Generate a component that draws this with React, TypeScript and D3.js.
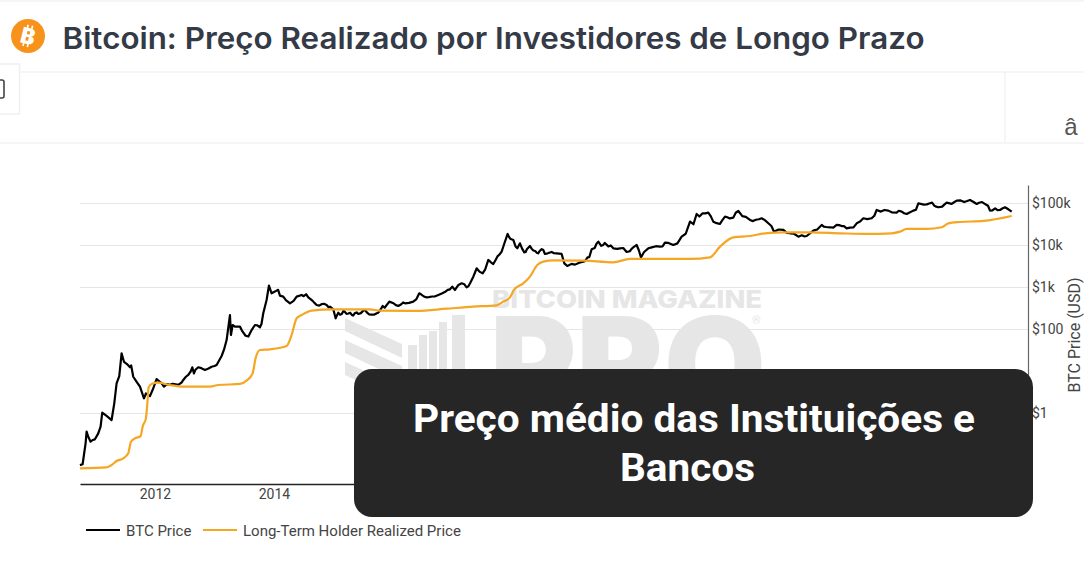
import { useEffect, useRef } from "react";
import * as d3 from "d3";

const title = "Bitcoin: Preço Realizado por Investidores de Longo Prazo";
const calloutLines = ["Preço médio das Instituições e", "Bancos"];
const seriesNames = ["BTC Price", "Long-Term Holder Realized Price"];
const yAxisLabel = "BTC Price (USD)";

const xTicks = [2012, 2014, 2016, 2018, 2020, 2022, 2024, 2026];
const yTicks = [1, 100, 1000, 10000, 100000];
const yTickLabels = ["$1", "$100", "$1k", "$10k", "$100k"];

// decimal years and USD
const btcYears = [
  2010.739, 2010.784, 2010.806, 2010.834, 2010.851, 2010.879, 2010.918, 2010.952, 2010.991, 2011.047, 2011.086, 2011.114,
  2011.187, 2011.271, 2011.316, 2011.355, 2011.4, 2011.439, 2011.479, 2011.53, 2011.58, 2011.6, 2011.635, 2011.692, 2011.748,
  2011.815, 2011.848, 2011.916, 2011.972, 2012.027, 2012.112, 2012.151, 2012.2, 2012.252, 2012.392, 2012.476, 2012.56,
  2012.627, 2012.655, 2012.728, 2012.84, 2012.952, 2013.036, 2013.12, 2013.204, 2013.26, 2013.277, 2013.305, 2013.344,
  2013.428, 2013.523, 2013.624, 2013.68, 2013.764, 2013.82, 2013.876, 2013.915, 2013.96, 2014.0, 2014.044, 2014.1, 2014.156,
  2014.2, 2014.269, 2014.33, 2014.381, 2014.465, 2014.577, 2014.65, 2014.717, 2014.8, 2014.885, 2014.941, 2014.997, 2015.036,
  2015.081, 2015.14, 2015.193, 2015.25, 2015.305, 2015.36, 2015.417, 2015.501, 2015.56, 2015.641, 2015.72, 2015.781,
  2015.826, 2015.86, 2015.938, 2016.01, 2016.089, 2016.14, 2016.202, 2016.341, 2016.442, 2016.5, 2016.566, 2016.66, 2016.762,
  2016.87, 2016.958, 2016.997, 2017.042, 2017.154, 2017.238, 2017.3, 2017.35, 2017.406, 2017.46, 2017.507, 2017.602, 2017.65,
  2017.686, 2017.76, 2017.826, 2017.927, 2017.97, 2018.022, 2018.09, 2018.134, 2018.207, 2018.25, 2018.302, 2018.36, 2018.414,
  2018.47, 2018.526, 2018.554, 2018.666, 2018.75, 2018.834, 2018.879, 2018.93, 2019.059, 2019.199, 2019.27, 2019.339, 2019.451,
  2019.5, 2019.535, 2019.62, 2019.703, 2019.815, 2019.927, 2020.01, 2020.095, 2020.13, 2020.168, 2020.22, 2020.291, 2020.487,
  2020.571, 2020.711, 2020.851, 2020.92, 2020.992, 2021.05, 2021.103, 2021.2, 2021.299, 2021.383, 2021.44, 2021.495, 2021.58,
  2021.66, 2021.804, 2021.87, 2022.0, 2022.1, 2022.196, 2022.308, 2022.404, 2022.48, 2022.561, 2022.673, 2022.813, 2022.87,
  2022.953, 2023.065, 2023.205, 2023.28, 2023.345, 2023.457, 2023.54, 2023.625, 2023.793, 2023.905, 2024.045, 2024.129,
  2024.2, 2024.325, 2024.465, 2024.55, 2024.633, 2024.745, 2024.829, 2024.92, 2025.025, 2025.1, 2025.166, 2025.306, 2025.39,
  2025.474, 2025.6, 2025.698, 2025.81, 2025.9, 2025.978, 2026.034, 2026.12, 2026.202, 2026.286, 2026.342, 2026.398,
];
const btcPrices = [
  0.059, 0.062, 0.103, 0.195, 0.37, 0.28, 0.213, 0.234, 0.243, 0.337, 0.486, 1.05,
  0.873, 0.7, 1.75, 5.2, 7.8, 27, 17, 15, 12.6, 14, 7.5, 5.7, 4.35,
  2.3, 3.0, 2.6, 4.0, 6.6, 5.2, 4.35, 5.0, 4.8, 4.8, 6.3, 8.3,
  12.6, 9.0, 12.6, 10.9, 13, 14.3, 23.4, 56, 221, 74, 128, 117,
  117, 71, 97, 128, 113, 243, 504, 1107, 727, 780, 841, 640, 605,
  500, 420, 480, 605, 663, 583, 480, 383, 400, 383, 350, 302, 185,
  252, 235, 261, 240, 225, 245, 234, 281, 255, 225, 240, 281,
  363, 330, 460, 420, 363, 400, 420, 460, 727, 640, 583, 610, 663,
  780, 904, 1047, 872, 1255, 1009, 1300, 1811, 2858, 2350, 2173, 4519, 3900,
  3622, 5600, 7129, 18800, 14500, 13520, 8570, 11270, 6870, 8100, 9730, 7600, 6740,
  7500, 7810, 6280, 7000, 6500, 6280, 3760, 3250, 3500, 4120, 5200, 8110, 12340,
  9800, 10280, 9500, 8560, 8560, 7000, 8300, 10280, 7800, 5220, 7000, 8560, 9370,
  11670, 10280, 16220, 19000, 36900, 32000, 56200, 58000, 60500, 36900, 34000, 32500, 48500,
  44000, 66200, 50000, 40500, 41000, 44400, 33700, 21300, 24000, 23400, 19500, 16200, 17500,
  16800, 22500, 30800, 27500, 27100, 30800, 29000, 25600, 33700, 44400, 44400, 70000,
  64000, 67500, 60500, 64000, 56200, 67500, 101000, 94000, 101000, 88000, 81100, 104700, 98000,
  116800, 108000, 121000, 97300, 108000, 92000, 67500, 76000, 70000, 81100, 72600, 63800,
];

// second reading of the smaller swings between the points above
const btcSwingYears = [
  2012.3, 2012.45, 2012.52, 2012.6, 2012.68, 2012.78, 2012.9, 2013.0, 2013.16, 2013.47, 2013.57, 2013.72, 2013.79, 2014.07,
  2014.5, 2014.54, 2014.62, 2014.68, 2014.76, 2014.84, 2014.92, 2015.11, 2015.17, 2015.22, 2015.28, 2015.33, 2015.39, 2015.46,
  2015.53, 2015.6, 2015.68, 2015.75, 2016.05, 2016.17, 2016.27, 2016.39, 2016.47, 2016.53, 2016.6, 2016.7, 2016.82, 2016.92,
  2017.1, 2017.2, 2017.27, 2017.38, 2017.43, 2017.55, 2017.63, 2017.72, 2017.79, 2017.87, 2017.95, 2018.06, 2018.17, 2018.23,
  2018.33, 2018.39, 2018.44, 2018.5, 2018.6, 2018.7, 2018.79, 2019.0, 2019.13, 2019.23, 2019.3, 2019.39, 2019.42, 2019.56,
  2019.66, 2019.77, 2019.87, 2019.98, 2020.05, 2020.35, 2020.42, 2020.53, 2020.63, 2020.78, 2021.15, 2021.25, 2021.34, 2021.53,
  2021.62, 2021.72, 2021.76, 2021.84, 2021.93, 2022.05, 2022.15, 2022.25, 2022.36, 2022.62, 2022.74, 2022.91, 2023.13, 2023.24,
  2023.4, 2023.5, 2023.58, 2023.68, 2023.74, 2023.85, 2023.97, 2024.09, 2024.26, 2024.39, 2024.5, 2024.59, 2024.69, 2024.79,
  2024.97, 2025.06, 2025.13, 2025.23, 2025.27, 2025.43, 2025.54, 2025.65, 2025.75, 2025.85, 2025.94, 2026.0, 2026.07, 2026.16,
  2026.24,
];
const btcSwingPrices = [
  5.1, 5.5, 7.5, 10, 11, 12, 11.8, 13.5, 33, 90, 68, 125, 135, 880,
  620, 690, 520, 430, 370, 410, 335, 225, 280, 235, 250, 215, 255, 245,
  290, 230, 225, 250, 380, 440, 430, 520, 690, 600, 590, 610, 720, 880,
  1150, 1190, 1080, 2300, 2600, 2700, 4200, 4400, 6100, 11000, 16000, 9500, 8400, 7000,
  8400, 7400, 6500, 8200, 6500, 6600, 6400, 3650, 3900, 4300, 5300, 8700, 11000, 11500,
  10000, 8300, 8700, 7300, 9300, 9000, 9600, 9500, 11500, 11200, 49000, 58000, 50000, 39000,
  47000, 46000, 60000, 57000, 48000, 38000, 42000, 40000, 29000, 20000, 19000, 16500, 24000, 28000,
  26500, 30500, 29000, 26500, 27000, 37000, 42500, 51000, 70000, 61000, 67000, 58500, 62000, 71000,
  95000, 105000, 84000, 84000, 95000, 107000, 118000, 114000, 110000, 104000, 99000, 88000, 68000, 69000,
  76000,
];

const lthYears = [
  2010.739, 2011.187, 2011.271, 2011.355, 2011.467, 2011.551, 2011.596, 2011.663, 2011.759, 2011.792, 2011.848, 2011.876,
  2011.893, 2011.944, 2012.056, 2012.252, 2012.476, 2012.924, 2013.064, 2013.428, 2013.54, 2013.641, 2013.691, 2013.764,
  2013.932, 2014.212, 2014.297, 2014.381, 2014.465, 2014.633, 2014.997, 2015.613, 2015.781, 2016.398, 2016.902, 2017.35,
  2017.742, 2017.854, 2017.966, 2018.033, 2018.19, 2018.302, 2018.425, 2018.526, 2018.694, 2019.199, 2019.703, 2019.983,
  2020.992, 2021.328, 2021.496, 2021.72, 2022.0, 2022.252, 2022.561, 2023.009, 2023.513, 2023.961, 2024.381, 2024.521,
  2024.633, 2024.969, 2025.221, 2025.334, 2025.53, 2025.922, 2026.398,
];
const lthPrices = [
  0.0495, 0.0523, 0.0594, 0.074, 0.0857, 0.113, 0.213, 0.256, 0.291, 0.486, 0.767, 2.09,
  4.2, 5.05, 5.42, 4.77, 4.36, 4.36, 4.77, 5.05, 6.05, 9.04, 20.6, 32.5,
  33.7, 40.5, 74, 185, 221, 281, 302, 302, 281, 276, 313, 350,
  376, 460, 583, 872, 1255, 1811, 3436, 4120, 4436, 4355, 3972, 4775,
  4775, 5224, 9376, 15640, 16800, 19500, 20560, 20560, 19500, 18800, 19500, 21340,
  24700, 24700, 27100, 33700, 36200, 38300, 50400,
];

const width = 1084;
const height = 570;
const font = "Roboto, sans-serif";
const orange = "#f5a623";
const watermark = "#e6e6e6";

export default function App() {
  const svgRef = useRef<SVGSVGElement>(null);

  useEffect(() => {
    if (!svgRef.current) return;
    const svg = d3.select(svgRef.current);
    svg.selectAll("*").remove();

    const xScale = d3.scaleLinear().domain([2010.74, 2026.4]).range([80, 1011.8]);
    const yScale = d3.scaleLog().domain([0.021, 275000]).range([484, 185]);

    // page header
    const header = svg.append("g");
    [1, 72, 143].forEach((y) => {
      header.append("line").attr("x1", 0).attr("x2", width).attr("y1", y).attr("y2", y)
        .attr("stroke", "#f3f3f3").attr("stroke-width", 1.5);
    });
    header.append("line").attr("x1", 1005).attr("x2", 1005).attr("y1", 72).attr("y2", 143)
      .attr("stroke", "#f3f3f3").attr("stroke-width", 1.5);
    header.append("rect").attr("x", -5).attr("y", 64).attr("width", 24.5).attr("height", 50)
      .attr("fill", "#fff").attr("stroke", "#f0f0f0").attr("stroke-width", 1.5);
    header.append("rect").attr("x", -5).attr("y", 80).attr("width", 9).attr("height", 18).attr("rx", 2)
      .attr("fill", "none").attr("stroke", "#444").attr("stroke-width", 1.6);
    header.append("text").attr("x", 1071).attr("y", 135).attr("text-anchor", "middle")
      .attr("font-family", "'Liberation Sans', sans-serif").attr("font-size", 24).attr("fill", "#555").text("â");

    // coin icon
    const coin = header.append("g").attr("transform", "translate(28,36)");
    coin.append("circle").attr("r", 17).attr("fill", "#f7931a");
    const glyph = coin.append("g").attr("transform", "rotate(14)");
    glyph.append("text").attr("y", 8).attr("text-anchor", "middle").attr("font-family", "Inter, sans-serif")
      .attr("font-weight", 800).attr("font-size", 22).attr("fill", "#fff").text("B");
    [-2.5, 2].forEach((dx) => {
      glyph.append("line").attr("x1", dx).attr("x2", dx).attr("y1", -11).attr("y2", 11)
        .attr("stroke", "#fff").attr("stroke-width", 1.6);
    });

    header.append("text").attr("x", 62.5).attr("y", 49)
      .attr("font-family", "Inter, sans-serif").attr("font-weight", 600).attr("font-size", 30)
      .attr("fill", "#343a46").attr("textLength", 862).attr("lengthAdjust", "spacingAndGlyphs").text(title);

    // watermark
    const wm = svg.append("g").attr("fill", watermark);
    wm.append("text").attr("x", 492).attr("y", 308).attr("font-family", "Inter, sans-serif").attr("font-weight", 800)
      .attr("font-size", 25).attr("textLength", 270).attr("lengthAdjust", "spacingAndGlyphs").text("BITCOIN MAGAZINE");
    wm.append("text").attr("x", 490).attr("y", 411).attr("font-family", "Inter, sans-serif").attr("font-weight", 900)
      .attr("font-size", 130).attr("textLength", 276).attr("lengthAdjust", "spacingAndGlyphs").text("PRO");
    wm.append("text").attr("x", 752).attr("y", 324).attr("font-family", font).attr("font-size", 11).text("®");
    [0, 22, 44].forEach((dy) => {
      wm.append("path").attr("d", `M345 ${318 + dy}L402 ${344 + dy}V${358 + dy}L345 ${331 + dy}Z`);
    });
    [[408, 345, 9], [419, 335, 8], [429, 331, 8], [439, 322, 8], [452, 315, 13]].forEach(([x, top, w]) => {
      wm.append("rect").attr("x", x).attr("y", top).attr("width", w).attr("height", 372 - top);
    });

    // grid
    svg.append("g").selectAll("line").data(yTicks).join("line")
      .attr("x1", 80).attr("x2", 1028)
      .attr("y1", (d) => yScale(d)).attr("y2", (d) => yScale(d))
      .attr("stroke", "#e6e6e6").attr("stroke-width", 1);

    // x axis
    const xAxis = svg.append("g").attr("transform", "translate(0,484)")
      .call(d3.axisBottom(xScale).tickValues(xTicks).tickSize(0).tickPadding(5).tickFormat((d) => String(d)));
    xAxis.select(".domain").attr("stroke", "#222").attr("stroke-width", 1.3);
    xAxis.selectAll("text").attr("font-family", font).attr("font-size", 14).attr("fill", "#444");

    // y axis
    const yAxis = svg.append("g").attr("transform", "translate(1028,0)")
      .call(d3.axisRight(yScale).tickValues(yTicks).tickSize(0).tickPadding(4)
        .tickFormat((d) => yTickLabels[yTicks.indexOf(+d)]));
    yAxis.select(".domain").attr("stroke", "#666").attr("stroke-width", 1.2);
    yAxis.selectAll("text").attr("font-family", font).attr("font-size", 14).attr("fill", "#444");

    svg.append("text").attr("transform", "translate(1080,335) rotate(-90)").attr("text-anchor", "middle")
      .attr("font-family", font).attr("font-size", 16).attr("fill", "#444").text(yAxisLabel);

    // lines
    const btcPoints = d3.sort(
      [...d3.zip(btcYears, btcPrices), ...d3.zip(btcSwingYears, btcSwingPrices)],
      (d) => d[0],
    );
    const btcLine = d3.line<number[]>().x((d) => xScale(d[0])).y((d) => yScale(d[1]));
    const lthLine = d3.line<number[]>().x((d) => xScale(d[0])).y((d) => yScale(d[1])).curve(d3.curveMonotoneX);

    svg.append("path").attr("d", btcLine(btcPoints))
      .attr("fill", "none").attr("stroke", "#000").attr("stroke-width", 2.2).attr("stroke-linejoin", "round");
    svg.append("path").attr("d", lthLine(d3.zip(lthYears, lthPrices)))
      .attr("fill", "none").attr("stroke", orange).attr("stroke-width", 2.2);

    // legend
    const legend = svg.append("g").attr("font-family", font).attr("font-size", 15).attr("fill", "#444");
    [
      { x1: 86, x2: 120, tx: 126, color: "#000" },
      { x1: 203, x2: 237, tx: 243, color: orange },
    ].forEach((item, i) => {
      legend.append("line").attr("x1", item.x1).attr("x2", item.x2).attr("y1", 530).attr("y2", 530)
        .attr("stroke", item.color).attr("stroke-width", 2);
      legend.append("text").attr("x", item.tx).attr("y", 536).text(seriesNames[i]);
    });

    // callout over the chart
    svg.append("rect").attr("x", 354).attr("y", 369).attr("width", 679).attr("height", 148).attr("rx", 18)
      .attr("fill", "#262626");
    [
      { x: 413, y: 432, length: 562 },
      { x: 620, y: 481, length: 135 },
    ].forEach((item, i) => {
      svg.append("text").attr("x", item.x).attr("y", item.y)
        .attr("font-family", font).attr("font-weight", 700).attr("font-size", 39).attr("fill", "#fff")
        .attr("textLength", item.length).attr("lengthAdjust", "spacingAndGlyphs").text(calloutLines[i]);
    });

    return () => {
      svg.selectAll("*").remove();
    };
  }, []);

  return (
    <svg
      ref={svgRef}
      width={width}
      height={height}
      style={{ position: "absolute", left: 0, top: 0, background: "#fff" }}
    />
  );
}
